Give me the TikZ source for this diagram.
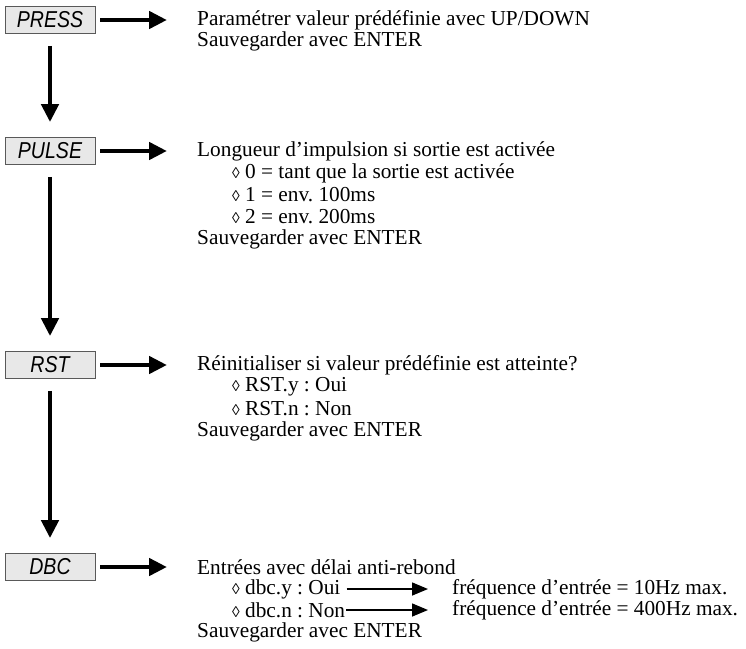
\documentclass[tikz,border=0pt]{standalone}
\usepackage{fontspec}
\setmainfont{Liberation Serif}
\newfontfamily\lcdfont[FakeStretch=0.85]{Liberation Sans}
\usetikzlibrary{arrows.meta}
\newcommand\mylz{{\fontsize{15.5}{15.5}\selectfont ◊}}
\frenchspacing
\begin{document}
\begin{tikzpicture}[x=1pt,y=-1pt,
 lcd/.style={draw=black!65, fill=black!9, line width=0.8pt, minimum width=90pt, minimum height=27pt, inner sep=0pt, font=\lcdfont\itshape\fontsize{23}{23}\selectfont},
 txt/.style={anchor=west, inner sep=0pt, font=\fontsize{21.3}{22}\selectfont},
 bigarrow/.style={line width=4.8pt, -{Triangle[length=18pt,width=17pt]}},
 thinarrow/.style={line width=1.5pt, -{Triangle[length=16pt,width=13pt]}}]
\useasboundingbox (0,0) rectangle (746,648);
% boxes
\node[lcd] (press) at (50,20) {PRESS};
\node[lcd] (pulse) at (50,151) {PULSE};
\node[lcd] (rst) at (50,365) {RST};
\node[lcd] (dbc) at (50,567) {DBC};
% texts
\node[txt] (p1) at (197,20) {Paramétrer valeur prédéfinie avec UP/DOWN};
\node[txt] (p2) at (197,41) {Sauvegarder avec ENTER};
\node[txt] (u1) at (197,151) {Longueur d’impulsion si sortie est activée};
\node[txt] (u2) at (232,173) {\mylz{} 0 = tant que la sortie est activée};
\node[txt] (u3) at (232,195) {\mylz{} 1 = env. 100ms};
\node[txt] (u4) at (232,217) {\mylz{} 2 = env. 200ms};
\node[txt] (u5) at (197,239) {Sauvegarder avec ENTER};
\node[txt] (r1) at (197,365) {Réinitialiser si valeur prédéfinie est atteinte?};
\node[txt] (r2) at (232,387) {\mylz{} RST.y : Oui};
\node[txt] (r3) at (232,409) {\mylz{} RST.n : Non};
\node[txt] (r4) at (197,431) {Sauvegarder avec ENTER};
\node[txt] (d1) at (197,567) {Entrées avec délai anti-rebond};
\node[txt] (d2) at (232,589) {\mylz{} dbc.y : Oui};
\node[txt] (d3) at (232,610) {\mylz{} dbc.n : Non};
\node[txt] (d4) at (197,632) {Sauvegarder avec ENTER};
\node[txt] (f1) at (452,589) {fréquence d’entrée = 10Hz max.};
\node[txt] (f2) at (452,610) {fréquence d’entrée = 400Hz max.};
% horizontal arrows
\draw[bigarrow, shorten <=5pt, shorten >=30pt] (press.east) -- (p1.west);
\draw[bigarrow, shorten <=5pt, shorten >=30pt] (pulse.east) -- (u1.west);
\draw[bigarrow, shorten <=5pt, shorten >=30pt] (rst.east) -- (r1.west);
\draw[bigarrow, shorten <=5pt, shorten >=30pt] (dbc.east) -- (d1.west);
% vertical arrows
\draw[bigarrow, shorten <=12pt, shorten >=15pt] (press.south) -- (pulse.north);
\draw[bigarrow, shorten <=12pt, shorten >=15pt] (pulse.south) -- (rst.north);
\draw[bigarrow, shorten <=12pt, shorten >=15pt] (rst.south) -- (dbc.north);
% thin arrows
\draw[thinarrow, shorten <=6pt, shorten >=24pt] (d2.east) -- (f1.west);
\draw[thinarrow, shorten <=1pt, shorten >=24pt] (d3.east) -- (f2.west);
\end{tikzpicture}
\end{document}
